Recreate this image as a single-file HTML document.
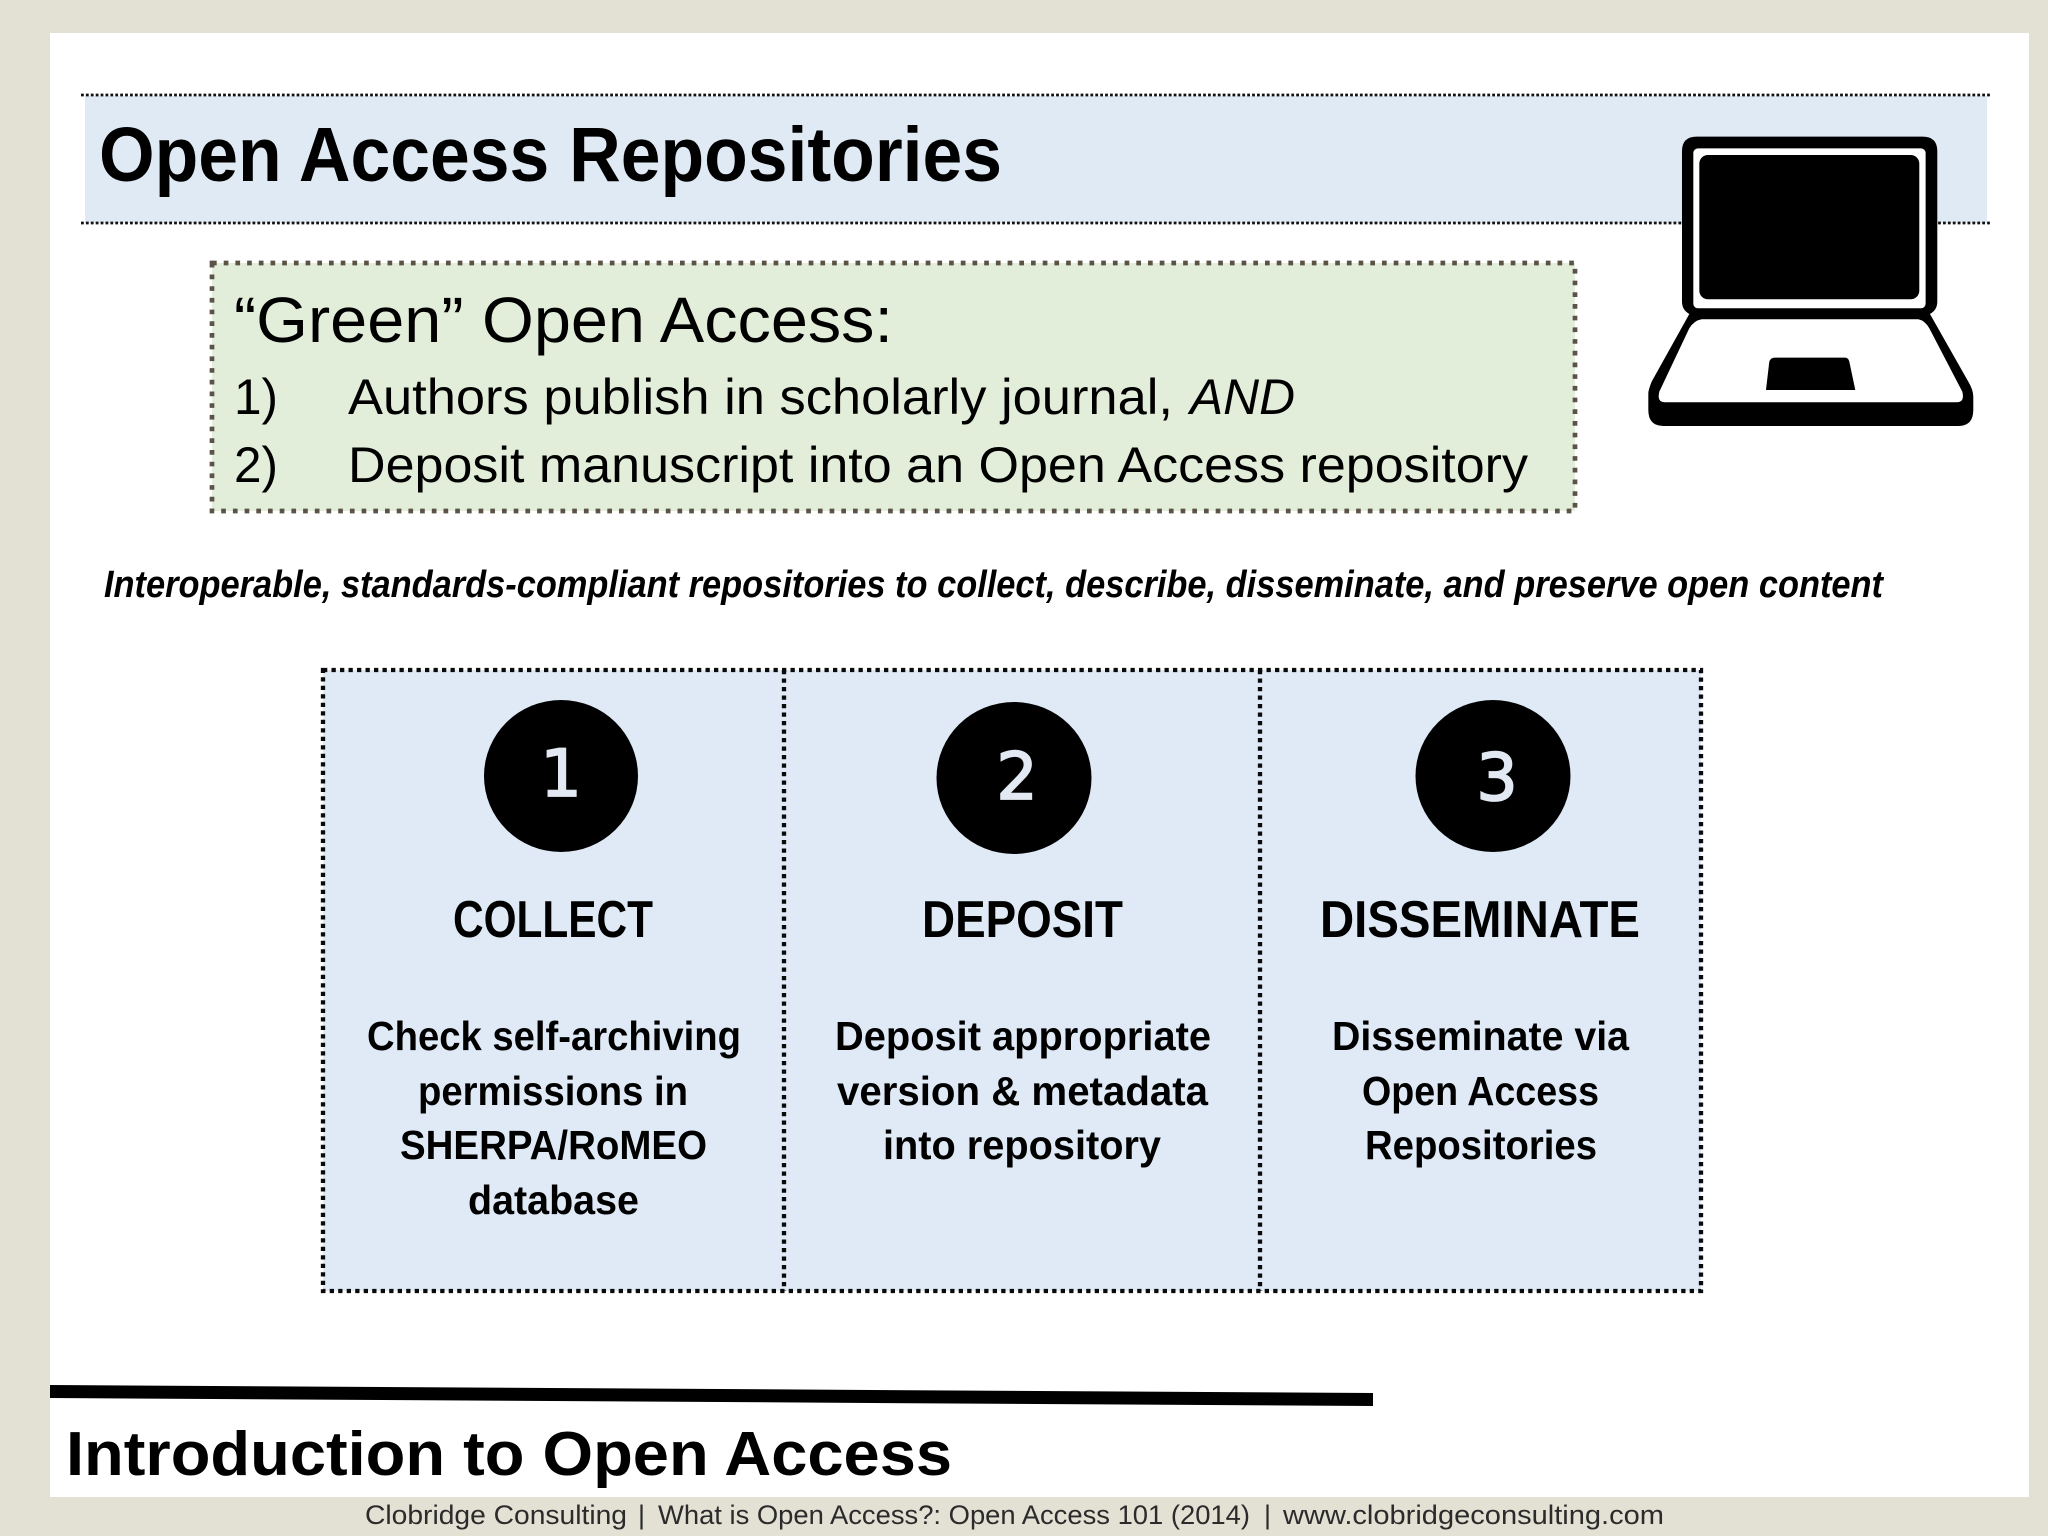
<!DOCTYPE html>
<html><head><meta charset="utf-8"><style>
html,body{margin:0;padding:0;background:#e3e0d4}
svg{display:block}
text{font-family:"Liberation Sans",sans-serif;fill:#000}
.b{font-weight:700}
.d{font-family:"DejaVu Sans",sans-serif;fill:#e2e9f2;stroke:#e2e9f2;stroke-width:1.8}
.f{fill:#2b2b2b}
</style></head><body>
<svg xmlns="http://www.w3.org/2000/svg" width="2048" height="1536" viewBox="0 0 2048 1536">
<rect width="2048" height="1536" fill="#e3e0d4"/>
<rect x="50" y="33" width="1979" height="1464" fill="#fff"/>
<!-- header band -->
<rect x="85" y="96" width="1902" height="127" fill="#dfeaf5"/>
<line x1="81" y1="95" x2="1990" y2="95" stroke="#111" stroke-width="2.8" stroke-dasharray="2.8 2.1"/>
<line x1="81" y1="223" x2="1990" y2="223" stroke="#111" stroke-width="2.8" stroke-dasharray="2.8 2.1"/>
<text class="b" x="99" y="181" font-size="77" textLength="903" lengthAdjust="spacingAndGlyphs">Open Access Repositories</text>
<!-- laptop -->
<g transform="translate(1550,60) scale(0.3333)">
<path d="M440 230H1118Q1162 230 1162 274V725Q1162 750 1140 762L1255 965Q1270 990 1270 1010V1050Q1270 1098 1225 1098H340Q295 1098 295 1050V1000Q295 990 305 965L418 762Q396 750 396 725V274Q396 230 440 230Z" fill="#000"/>
<rect x="430" y="265" width="697" height="480" rx="14" fill="#fff"/>
<rect x="448" y="285" width="660" height="433" rx="26" fill="#000"/>
<path d="M455 778H1105Q1125 782 1138 805L1237 995Q1245 1027 1220 1027H345Q320 1027 328 995L418 805Q432 782 455 778Z" fill="#fff"/>
<path d="M675 893H885Q895 893 898 905L916 990H648L658 905Q662 893 675 893Z" fill="#000"/>
</g>
<!-- green box -->
<rect x="212" y="263" width="1363" height="248" fill="#e3eeda"/>
<rect x="212" y="263" width="1363" height="248" fill="none" stroke="#5c5347" stroke-width="4.7" stroke-dasharray="4.7 7"/>
<text x="234" y="342" font-size="64" textLength="659" lengthAdjust="spacingAndGlyphs">“Green” Open Access:</text>
<text x="234" y="414" font-size="50" textLength="44" lengthAdjust="spacingAndGlyphs">1)</text>
<text x="348" y="414" font-size="50" textLength="825" lengthAdjust="spacingAndGlyphs">Authors publish in scholarly journal,</text>
<text x="1190" y="414" font-size="50" font-style="italic" textLength="105" lengthAdjust="spacingAndGlyphs">AND</text>
<text x="234" y="482" font-size="50" textLength="44" lengthAdjust="spacingAndGlyphs">2)</text>
<text x="348" y="482" font-size="50" textLength="1180" lengthAdjust="spacingAndGlyphs">Deposit manuscript into an Open Access repository</text>
<text class="b" x="104" y="597" font-size="38" font-style="italic" textLength="1779" lengthAdjust="spacingAndGlyphs">Interoperable, standards-compliant repositories to collect, describe, disseminate, and preserve open content</text>
<!-- table -->
<rect x="323" y="670" width="1378" height="621" fill="#dfeaf6"/>
<g fill="none" stroke="#0a0a0a" stroke-width="4.3" stroke-dasharray="4.3 4.2">
<rect x="323" y="670" width="1378" height="621"/>
<line x1="784" y1="670" x2="784" y2="1291"/>
<line x1="1260" y1="670" x2="1260" y2="1291"/>
</g>
<ellipse cx="561" cy="776" rx="77" ry="76" fill="#000"/>
<ellipse cx="1014" cy="778" rx="77.5" ry="76" fill="#000"/>
<ellipse cx="1493" cy="776" rx="77.5" ry="76" fill="#000"/>
<g font-size="65" text-anchor="middle">
<text class="d" x="561" y="796">1</text>
<text class="d" x="1017" y="799">2</text>
<text class="d" x="1497" y="800">3</text>
</g>
<g class="b" font-size="52" font-weight="700">
<text x="453" y="937" textLength="200" lengthAdjust="spacingAndGlyphs">COLLECT</text>
<text x="922" y="937" textLength="201" lengthAdjust="spacingAndGlyphs">DEPOSIT</text>
<text x="1320" y="937" textLength="320" lengthAdjust="spacingAndGlyphs">DISSEMINATE</text>
</g>
<g font-size="41" font-weight="700">
<text x="367" y="1050" textLength="374" lengthAdjust="spacingAndGlyphs">Check self-archiving</text>
<text x="418" y="1105" textLength="270" lengthAdjust="spacingAndGlyphs">permissions in</text>
<text x="400" y="1159" textLength="307" lengthAdjust="spacingAndGlyphs">SHERPA/RoMEO</text>
<text x="468" y="1214" textLength="171" lengthAdjust="spacingAndGlyphs">database</text>
<text x="835" y="1050" textLength="376" lengthAdjust="spacingAndGlyphs">Deposit appropriate</text>
<text x="837" y="1105" textLength="371" lengthAdjust="spacingAndGlyphs">version &amp; metadata</text>
<text x="883" y="1159" textLength="278" lengthAdjust="spacingAndGlyphs">into repository</text>
<text x="1332" y="1050" textLength="297" lengthAdjust="spacingAndGlyphs">Disseminate via</text>
<text x="1362" y="1105" textLength="237" lengthAdjust="spacingAndGlyphs">Open Access</text>
<text x="1365" y="1159" textLength="232" lengthAdjust="spacingAndGlyphs">Repositories</text>
</g>
<!-- footer -->
<polygon points="50,1385 1373,1393 1373,1406 50,1398" fill="#000"/>
<text class="b" x="66" y="1475" font-size="62" textLength="886" lengthAdjust="spacingAndGlyphs">Introduction to Open Access</text>
<g font-size="27">
<text class="f" x="365" y="1524" textLength="262" lengthAdjust="spacingAndGlyphs">Clobridge Consulting</text>
<text class="f" x="638" y="1524">|</text>
<text class="f" x="658" y="1524" textLength="592" lengthAdjust="spacingAndGlyphs">What is Open Access?: Open Access 101 (2014)</text>
<text class="f" x="1264" y="1524">|</text>
<text class="f" x="1283" y="1524" textLength="381" lengthAdjust="spacingAndGlyphs">www.clobridgeconsulting.com</text>
</g>
</svg>
</body></html>
